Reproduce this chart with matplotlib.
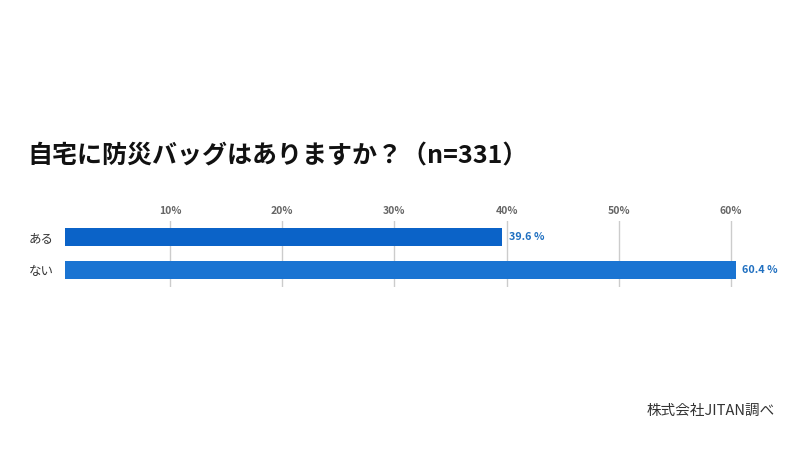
import matplotlib.pyplot as plt

plt.rcParams['font.family'] = ['Noto Sans CJK JP', 'DejaVu Sans']

# データ
categories = ['ある', 'ない']
values = [39.6, 60.4]
bar_colors = ['#0b63c8', '#1a74d2']
ticks = [10, 20, 30, 40, 50, 60]
tick_labels = ['10%', '20%', '30%', '40%', '50%', '60%']

fig = plt.figure(figsize=(8, 4.5), dpi=100)
fig.patch.set_facecolor('white')

# 軸の位置（ピクセルから換算）：左端は 0.6% から（棒の始点をずらす）
ax = fig.add_axes([64.5 / 800, 1 - 286.5 / 450, 734 / 800, 66 / 450])
y = list(range(len(categories)))
ax.barh(y, values, height=0.52, color=bar_colors, zorder=3)
ax.set_xlim(0.6, 66)
ax.set_ylim(1.5, -0.5)

ax.set_xticks(ticks)
ax.set_xticklabels(tick_labels, fontsize=7.5, color='#666666', fontweight='bold')
ax.xaxis.tick_top()
ax.tick_params(axis='x', length=0, pad=3)
ax.grid(axis='x', color='#cccccc', linewidth=1, zorder=0)

ax.set_yticks(y)
ax.set_yticklabels(categories, fontsize=9, color='#333333')
ax.tick_params(axis='y', length=0, pad=8)

for s in ax.spines.values():
    s.set_visible(False)

# 値ラベル
for yi, v in zip(y, values):
    ax.text(v + 0.6, yi, f'{v} %', va='center', ha='left', fontsize=7.8,
            color='#1f6fc0', fontweight='bold')

fig.text(27 / 800, 1 - 156 / 450, '自宅に防災バッグはありますか？（n=331）',
         fontsize=18, fontweight='bold', color='#111111', va='center', ha='left')
fig.text(775 / 800, 1 - 411 / 450, '株式会社JITAN調べ', fontsize=10.5,
         color='#333333', va='center', ha='right')

fig.savefig('out.png', dpi=100)
